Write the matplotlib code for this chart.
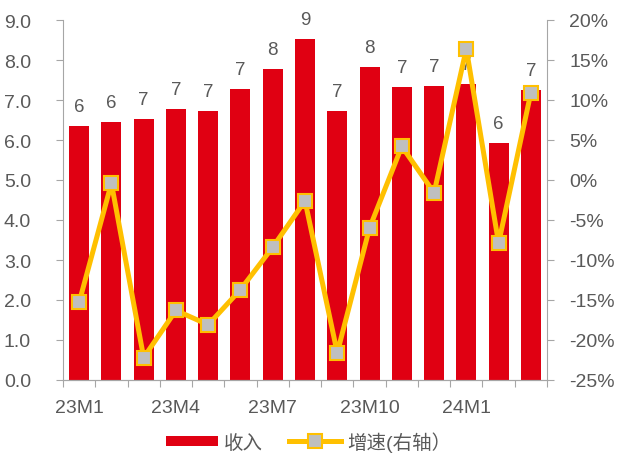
import matplotlib
matplotlib.use("Agg")
import matplotlib.pyplot as plt
import numpy as np
from matplotlib.lines import Line2D

plt.rcParams['font.family'] = ['Liberation Sans', 'Noto Sans CJK SC', 'DejaVu Sans']

months = ['23M1', '23M2', '23M3', '23M4', '23M5', '23M6', '23M7', '23M8',
          '23M9', '23M10', '23M11', '23M12', '24M1', '24M2', '24M3']
revenue = [6.34, 6.44, 6.53, 6.77, 6.72, 7.27, 7.77, 8.53,
           6.72, 7.82, 7.32, 7.34, 7.40, 5.93, 7.25]
growth = [-15.3, -0.4, -22.2, -16.3, -18.1, -13.7, -8.4, -2.6,
          -21.6, -6.0, 4.2, -1.6, 16.4, -7.9, 10.9]

bar_color = '#E00012'
line_color = '#FFC000'
text_color = '#595959'
axis_color = '#A6A6A6'
marker_style = dict(marker='s', markersize=9.5, markerfacecolor='#BFBFBF',
                    markeredgecolor=line_color, markeredgewidth=1.5)

fig = plt.figure(figsize=(6.17, 4.56), dpi=100)
ax = fig.add_axes([63 / 617, 75 / 456, 484 / 617, 360 / 456])
ax2 = ax.twinx()

x = np.arange(len(months))
ax.bar(x, revenue, width=0.62, color=bar_color, zorder=2)
for xi, v in zip(x, revenue):
    ax.text(xi, v + 0.28, f'{v:.0f}', ha='center', va='bottom',
            fontsize=13.5, color=text_color)

ax2.plot(x, growth, color=line_color, lw=3.6, zorder=3, **marker_style)

ax.set_xlim(-0.5, len(months) - 0.5)
ax.set_ylim(0, 9)
ax.set_yticks(np.arange(0, 9.1, 1))
ax.set_yticklabels([f'{t:.1f}' for t in np.arange(0, 9.1, 1)])
ax2.set_ylim(-25, 20)
ax2.set_yticks(np.arange(-25, 21, 5))
ax2.set_yticklabels([f'{t}%' for t in range(-25, 21, 5)])

# category boundary ticks, labels every third month
ax.set_xticks(np.arange(-0.5, len(months), 1))
ax.set_xticklabels([])
ax.set_xticks(x[::3], minor=True)
ax.set_xticklabels([months[i] for i in x[::3]], minor=True)
ax.tick_params(axis='x', which='minor', length=0, pad=14,
               labelsize=14, labelcolor=text_color)
ax.tick_params(axis='x', which='major', length=5, color=axis_color)

for a in (ax, ax2):
    a.spines['top'].set_visible(False)
    for s in ('left', 'right', 'bottom'):
        a.spines[s].set_color(axis_color)
    a.tick_params(axis='y', length=5, color=axis_color,
                  labelsize=14, labelcolor=text_color)
ax.tick_params(axis='y', pad=18)
ax2.tick_params(axis='y', pad=11)
ax2.spines['left'].set_visible(False)
ax.spines['right'].set_visible(False)

handles = [Line2D([], [], color=bar_color, lw=7.2, solid_capstyle='butt',
                  label='收入'),
           Line2D([], [], color=line_color, lw=3.6, label='增速(右轴）',
                  **marker_style)]
fig.legend(handles=handles, loc='center', bbox_to_anchor=(0.5, 0.03),
           ncol=2, frameon=False, fontsize=14, labelcolor=text_color,
           handlelength=2.7, columnspacing=1.3, handletextpad=0.3,
           borderpad=0.2)

fig.savefig('out.png', dpi=100)
